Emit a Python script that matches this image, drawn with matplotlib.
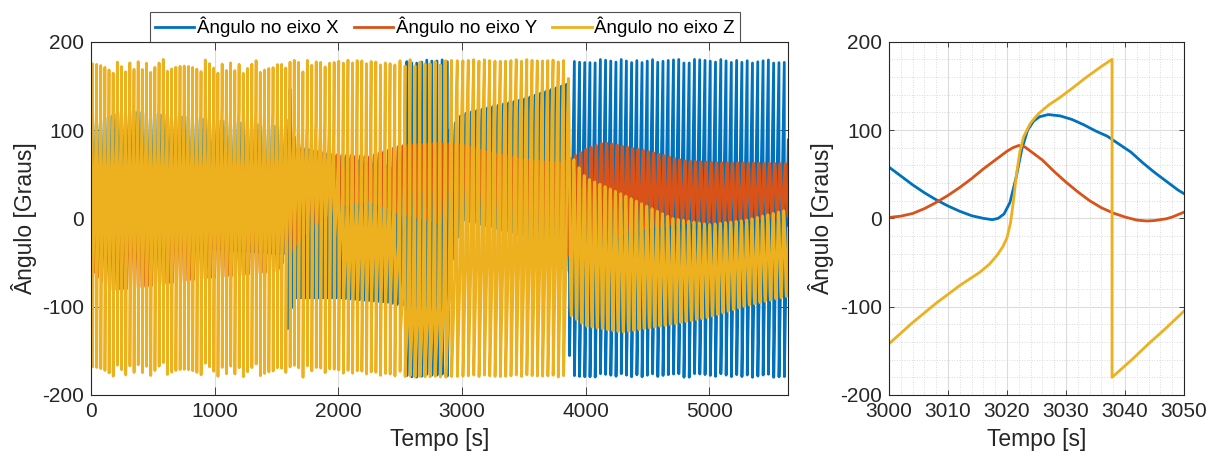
import numpy as np
import matplotlib
matplotlib.use("Agg")
import matplotlib.pyplot as plt
from matplotlib.ticker import MultipleLocator

plt.rcParams['font.family'] = ['Liberation Sans', 'DejaVu Sans']
plt.rcParams['axes.unicode_minus'] = False

# ---------------- data ----------------
SERIES_NAMES = ["Ângulo no eixo X", "Ângulo no eixo Y", "Ângulo no eixo Z"]
COLORS = ["#0072BD", "#D95319", "#EDB120"]

T_END = 5640.0
# oscillation period (s) along the run
PER_T = [0, 1500, 2500, 3000, 4000, 5640]
PER_S = [33.5, 34.5, 39.0, 43.5, 42.0, 43.0]

# X angle: envelope of the (non wrapping) oscillation
X_T = [0, 300, 1000, 1500, 1570, 1600, 1630, 1700, 2000, 2400, 2550, 2900, 3000, 3500, 3850, 3870, 5640]
X_LO = [-30, -35, -35, -40, -40, -160, -90, -90, -90, -95, -100, -60, -2, -20, -60, -60, -60]
X_HI = [110, 122, 112, 105, 105, 165, 95, 80, 70, 60, 40, 100, 118, 135, 152, 152, 152]
X_WRAP = [(2550, 2900), (3870, 5640)]          # full +-180 rotation intervals
X_WRAP_T = [0, 5640]
X_WRAP_C = [0, 0]       # centre of the slowly swept arc (deg)
X_WRAP_W = [90, 90]     # half width of that arc (deg)
X_WRAP_F = [0.5, 0.5]   # fraction of each turn spent in it

# Y angle: envelope
Y_T = [0, 150, 400, 800, 1500, 1700, 2000, 2250, 2500, 2800, 3000, 3200, 3500, 3800,
       4000, 4150, 4500, 4800, 5100, 5640]
Y_HI = [40, 55, 60, 60, 65, 80, 72, 70, 82, 85, 83, 75, 66, 62, 78, 86, 76, 65, 63, 62]
Y_LO = [-60, -82, -78, -70, -60, -20, 15, 20, 5, -5, -3, -15, -30, -45, -35, -25, -12, -6, -5, 2]

# Z angle: rotating (+-180) until ~3860 s, then oscillating
Z_WRAP = [(0, 3860)]
Z_WRAP_T = [0, 1500, 1650, 1950, 2050, 2450, 2550, 2850, 3000, 3860]
Z_WRAP_C = [25, 25, 50, 50, -40, -40, -140, -140, -150, -150]
Z_WRAP_W = [95, 95, 55, 55, 50, 50, 40, 40, 100, 100]
Z_WRAP_F = [0.85, 0.85, 0.75, 0.75, 0.6, 0.6, 0.6, 0.6, 0.8, 0.75]
Z_T = [3860, 3880, 4000, 4300, 4700, 5000, 5300, 5640]
Z_HI = [150, 72, 46, 27, 0, -7, -2, 10]
Z_LO = [-170, -110, -122, -129, -120, -112, -99, -88]

# zoom window 3000-3050 s
XR_T = [3000, 3002, 3004, 3006, 3008, 3010, 3012, 3014, 3016, 3017.5, 3018.5, 3019.5, 3020.5,
        3021.5, 3022.5, 3023.5, 3024.5, 3025.5, 3027, 3029, 3031, 3033, 3035, 3037, 3039,
        3041, 3043, 3045, 3047, 3049, 3050]
XR_V = [58, 48, 38, 29, 21, 14, 8, 3, 0, -1.5, 0, 5, 18, 45, 78, 100, 110, 115, 117.5, 116,
        112, 106, 99, 93, 84, 75, 63, 52, 42, 32, 28]
YR_T = [3000, 3002, 3004, 3006, 3008, 3010, 3012, 3014, 3016, 3018, 3020, 3021, 3022, 3023,
        3024, 3026, 3028, 3030, 3032, 3034, 3036, 3038, 3040, 3042, 3043.7, 3045, 3047, 3048, 3050]
YR_V = [1, 2.5, 5.5, 11, 18, 26, 35, 45, 56, 66, 76, 80, 82.5, 81, 76, 66, 53, 41, 30, 20, 12,
        6, 1.5, -2, -3, -2.5, -0.5, 1.5, 7]
ZR_T = [3000, 3004, 3008, 3012, 3015.4, 3017, 3018.3, 3019.3, 3020, 3020.6, 3021.1, 3021.6,
        3022.2, 3022.8, 3023.3, 3024, 3025, 3025.6, 3027, 3029, 3031, 3033.5, 3036, 3037.8,
        3037.8, 3041, 3044, 3047, 3050]
ZR_V = [-142, -118, -96, -76, -61, -52, -42, -32, -22, -5, 20, 50, 76, 92, 99, 108, 116, 120,
        128, 137, 147, 160, 172, 180, -180, -161, -142, -124, -105]

# ---------------- build long-run traces ----------------
DT = 0.5
t = np.arange(0, T_END + DT / 2, DT)
per = np.interp(t, PER_T, PER_S)
u = np.cumsum(DT / per) % 1.0


def oscill(T, LO, HI, ph):
    lo = np.interp(t, T, LO)
    hi = np.interp(t, T, HI)
    return (lo + hi) / 2 + (hi - lo) / 2 * np.sin(2 * np.pi * ((u + ph) % 1.0))


def rotate(T, C, Wd, F, ph):
    c = np.interp(t, T, C)
    w = np.interp(t, T, Wd)
    f = np.interp(t, T, F)
    uu = (u + ph) % 1.0
    psi = np.where(uu < f, c - w + 2 * w * uu / f,
                   c + w + (360 - 2 * w) * (uu - f) / (1 - f))
    return (psi + 180) % 360 - 180


def mask(intervals):
    m = np.zeros_like(t, dtype=bool)
    for a, b in intervals:
        m |= (t >= a) & (t <= b)
    return m


x_sig = np.where(mask(X_WRAP), rotate(X_WRAP_T, X_WRAP_C, X_WRAP_W, X_WRAP_F, 0.0),
                 oscill(X_T, X_LO, X_HI, 0.0))
y_sig = oscill(Y_T, Y_LO, Y_HI, 0.3)
z_sig = np.where(mask(Z_WRAP), rotate(Z_WRAP_T, Z_WRAP_C, Z_WRAP_W, Z_WRAP_F, 0.6),
                 oscill(Z_T, Z_LO, Z_HI, 0.6))

# ---------------- figure ----------------
W, H = 1219, 462
fig = plt.figure(figsize=(W / 100, H / 100), dpi=100)
axL = fig.add_axes([91.3 / W, 1 - 395 / H, (788.3 - 91.3) / W, (395 - 41.7) / H])
axR = fig.add_axes([889 / W, 1 - 395 / H, (1184 - 889) / W, (395 - 41.7) / H])

TXT = "#262626"
for ax in (axL, axR):
    for s in ax.spines.values():
        s.set_color(TXT)
        s.set_linewidth(0.8)
    ax.set_axisbelow(True)

lines = []
for sig, c, n in zip([x_sig, y_sig, z_sig], COLORS, SERIES_NAMES):
    ln, = axL.plot(t, sig, color=c, lw=2.0, label=n)
    lines.append(ln)
axL.set_xlim(0, T_END)
axL.set_ylim(-200, 200)
axL.xaxis.set_major_locator(MultipleLocator(1000))
axL.yaxis.set_major_locator(MultipleLocator(100))
axL.grid(True, which='major', color='#dcdcdc', lw=0.8)
axL.tick_params(direction='in', length=5.5, width=0.6, color=TXT, top=True, right=True,
                labelsize=15, labelcolor=TXT, pad=5)
axL.set_xlabel("Tempo [s]", fontsize=16.5, color=TXT, labelpad=5)
axL.set_ylabel("Ângulo [Graus]", fontsize=16.5, color=TXT, labelpad=4)

for T, V, c in zip([XR_T, YR_T, ZR_T], [XR_V, YR_V, ZR_V], COLORS):
    axR.plot(T, V, color=c, lw=2.0)
axR.set_xlim(3000, 3050)
axR.set_ylim(-200, 200)
axR.xaxis.set_major_locator(MultipleLocator(10))
axR.yaxis.set_major_locator(MultipleLocator(100))
axR.xaxis.set_minor_locator(MultipleLocator(2))
axR.yaxis.set_minor_locator(MultipleLocator(20))
axR.grid(True, which='major', color='#dcdcdc', lw=0.8)
axR.grid(True, which='minor', color='#cfcfcf', lw=0.6, ls=(0, (1, 2)))
axR.tick_params(which='both', direction='in', width=0.6, color=TXT, top=True, right=True)
axR.tick_params(which='major', length=3.5, labelsize=15, labelcolor=TXT, pad=5)
axR.tick_params(which='minor', length=0)
axR.set_xlabel("Tempo [s]", fontsize=16.5, color=TXT, labelpad=5)
axR.set_ylabel("Ângulo [Graus]", fontsize=16.5, color=TXT, labelpad=4)

leg = fig.legend(handles=lines, loc='upper center', bbox_to_anchor=(445 / W, 1 - 12 / H),
                 bbox_transform=fig.transFigure, ncol=3, fontsize=13.5, frameon=True,
                 fancybox=False, edgecolor=TXT, handlelength=2.1, handletextpad=0.15,
                 columnspacing=0.8, borderpad=0.25, borderaxespad=0)
leg.get_frame().set_linewidth(0.8)
for txt in leg.get_texts():
    txt.set_color('black')
for lh in leg.get_lines():
    lh.set_linewidth(2.0)

fig.savefig("out.png", dpi=100)
